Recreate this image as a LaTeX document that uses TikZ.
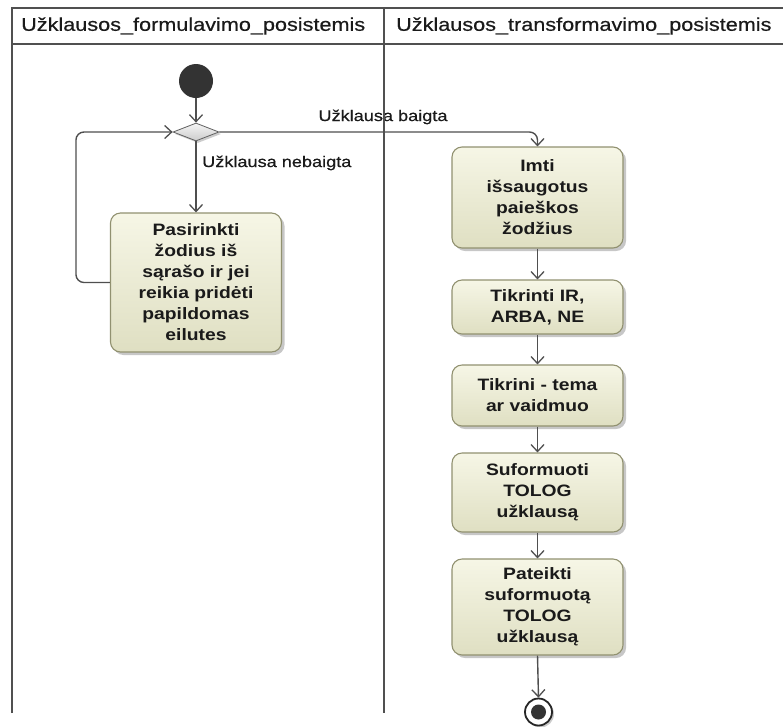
\documentclass[tikz,border=0pt]{standalone}
\usepackage{fontspec}
\setmainfont[FakeStretch=1.17]{Liberation Sans}
\newfontfamily\uifont[FakeStretch=1.17, FakeBold=0.5]{Liberation Sans}
\usetikzlibrary{arrows.meta,shapes.geometric,shadows}

\definecolor{laneline}{HTML}{505050}
\definecolor{flowline}{HTML}{4F4F4F}
\definecolor{boxtop}{HTML}{F6F6E6}
\definecolor{boxbot}{HTML}{DFDFC2}
\definecolor{boxedge}{HTML}{919170}
\definecolor{ink}{HTML}{1A1A1A}
\definecolor{dark}{HTML}{333333}

\tikzset{
  lane/.style={draw=laneline, line width=2.8pt},
  hdr/.style={anchor=west, inner sep=0pt, text=ink,
    font=\uifont\fontsize{18.5}{22}\selectfont},
  lbl/.style={inner sep=0pt, text=ink, font=\uifont\fontsize{15.5}{19}\selectfont},
  action/.style={rectangle, rounded corners=10pt, draw=boxedge, line width=1.1pt,
    top color=boxtop, bottom color=boxbot, minimum width=171pt,
    align=center, inner sep=0pt, text=ink,
    font=\bfseries\fontsize{16.5}{21}\selectfont,
    drop shadow={shadow xshift=3pt, shadow yshift=-3pt, fill=black, opacity=0.22}},
  decision/.style={diamond, aspect=2.5, minimum width=46pt, minimum height=18pt,
    inner sep=0pt, draw=gray!75!black, line width=0.8pt,
    top color=white!96!black, bottom color=white!80!black,
    drop shadow={shadow xshift=2pt, shadow yshift=-2pt, fill=black, opacity=0.2}},
  initial/.style={circle, fill=dark, minimum size=34pt, inner sep=0pt},
  final/.style={circle, draw=black!85, line width=1.8pt, fill=white,
    minimum size=27pt, inner sep=0pt,
    drop shadow={shadow xshift=2pt, shadow yshift=-2pt, fill=black, opacity=0.2}},
  finaldot/.style={circle, fill=dark, minimum size=15pt, inner sep=0pt},
  flow/.style={draw=flowline, line width=1.4pt,
    -{Straight Barb[length=7pt, width=13pt, line width=1.3pt]}},
}

\begin{document}
\begin{tikzpicture}[x=1pt, y=-1pt]
\useasboundingbox (0,0) rectangle (783,726);

% swimlane headers
\node[hdr] (hdrA) at (21,26) {Užklausos\_formulavimo\_posistemis};
\node[hdr] (hdrB) at (396,26) {Užklausos\_transformavimo\_posistemis};

% guard labels
\node[lbl] (lblDone) at (383,117) {Užklausa baigta};
\node[lbl, anchor=west] (lblOpen) at (202,163) {Užklausa nebaigta};

% swimlane frame
\draw[lane] (12,713) -- (12,8) -- (783,8);
\draw[lane] (12,44) -- (783,44);
\draw[lane] (384,8) -- (384,713);

% left lane
\node[initial] (start) at (196,81) {};
\node[decision] (dec) at (196,132) {};
\node[action, minimum height=139pt] (pick) at (196,282.5)
  {Pasirinkti\\žodius iš\\sąrašo ir jei\\reikia pridėti\\papildomas\\eilutes};

% right lane
\node[action, minimum height=101pt] (imti) at (537.5,197.5)
  {Imti\\išsaugotus\\paieškos\\žodžius};
\node[action, minimum height=54pt] (ir) at (537.5,307)
  {Tikrinti IR,\\ARBA, NE};
\node[action, minimum height=61pt] (tema) at (537.5,395.5)
  {Tikrini - tema\\ar vaidmuo};
\node[action, minimum height=79pt] (form) at (537.5,492.5)
  {Suformuoti\\TOLOG\\užklausą};
\node[action, minimum height=96pt] (pat) at (537.5,607)
  {Pateikti\\suformuotą\\TOLOG\\užklausą};
\node[final] (end) at (538.5,712) {};
\node[finaldot] (endDot) at (end) {};

% control flows
\draw[flow] (start) -- (dec);
\draw[flow] (dec.south) -- (pick.north);
\draw[flow, rounded corners=8pt] (pick.west) -- ++(-34,0) |- (dec.west);
\draw[flow, rounded corners=8pt] (dec.east) -| (imti.north);
\draw[flow] (imti) -- (ir);
\draw[flow] (ir) -- (tema);
\draw[flow] (tema) -- (form);
\draw[flow] (form) -- (pat);
\draw[flow] (pat.south) -- (end.north);
\end{tikzpicture}
\end{document}
